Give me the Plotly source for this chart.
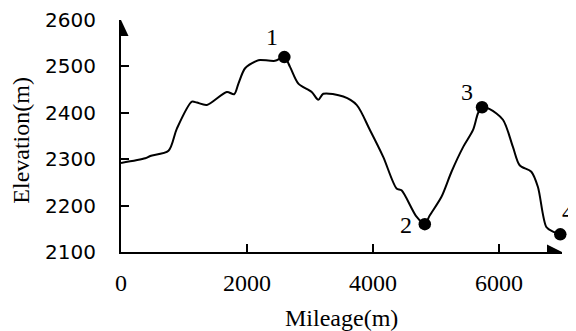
import plotly.graph_objects as go

# Elevation profile
mileage = [0, 385, 464, 754, 887, 1125, 1204, 1363, 1680, 1796, 1864, 1970, 2155, 2208,
           2445, 2593, 2683, 2815, 3027, 3132, 3211, 3528, 3740, 3951, 4162, 4374, 4453,
           4691, 4822, 4902, 5087, 5246, 5430, 5588, 5667, 5731, 5853, 6063, 6222, 6328,
           6513, 6618, 6751, 6856, 6973]
elevation = [2292, 2302, 2307, 2318, 2366, 2424, 2422, 2417, 2445, 2440, 2463, 2496, 2512, 2514,
             2512, 2520, 2499, 2463, 2445, 2428, 2441, 2435, 2417, 2363, 2305, 2237, 2233,
             2176, 2160, 2179, 2219, 2273, 2326, 2363, 2399, 2412, 2408, 2385, 2326, 2287,
             2273, 2240, 2154, 2144, 2138]

# Marked points
point_x = [2593, 4822, 5731, 6973]
point_y = [2520, 2160, 2412, 2138]
point_labels = ["1", "2", "3", "4"]
label_dx = [-12.6, -18.5, -15.3, 7.3]
label_dy = [20.3, -1, 15.6, 22.3]

x_ticks = [0, 2000, 4000, 6000]
y_ticks = [2100, 2200, 2300, 2400, 2500, 2600]

SERIF = "Liberation Serif"
SANS = "DejaVu Sans"

# page body has an 8px default margin -> compensate
OFF = 8

fig = go.Figure()
fig.add_trace(go.Scatter(x=mileage, y=elevation, mode="lines",
                         line=dict(color="black", width=2, shape="spline", smoothing=0.8),
                         hoverinfo="skip", cliponaxis=False))
fig.add_trace(go.Scatter(x=point_x, y=point_y, mode="markers",
                         marker=dict(color="black", size=12.5, line=dict(width=0)),
                         cliponaxis=False))

for px_, py_, t, dx, dy in zip(point_x, point_y, point_labels, label_dx, label_dy):
    fig.add_annotation(x=px_, y=py_, text=t, showarrow=False, xshift=dx, yshift=dy,
                       font=dict(family=SERIF, size=24, color="black"))

# Axis titles
fig.add_annotation(xref="paper", yref="paper", x=0.5, y=0, yshift=-66, text="Mileage(m)",
                   showarrow=False, yanchor="middle",
                   font=dict(family=SERIF, size=24, color="black"))
fig.add_annotation(xref="paper", yref="paper", x=0, xshift=-99.5, y=0.482, text="Elevation(m)",
                   showarrow=False, textangle=-90, xanchor="center", yanchor="middle",
                   font=dict(family=SERIF, size=24, color="black"))

# Arrowheads on axes
fig.add_shape(type="path", xref="x", yref="y", xsizemode="pixel", ysizemode="pixel",
              xanchor=0, yanchor=2600, path="M -7.5 -16 L 0 0 L 7.5 -16 Z",
              fillcolor="black", line=dict(width=0))
fig.add_shape(type="path", xref="x", yref="y", xsizemode="pixel", ysizemode="pixel",
              xanchor=7000, yanchor=2100, path="M -15 7.5 L 0 0 L -15 -7.5 Z",
              fillcolor="black", line=dict(width=0))

fig.update_layout(
    width=576 - OFF, height=331 - OFF,
    margin=dict(l=120.7 - OFF, r=13.6, t=20 - OFF, b=79.3, autoexpand=False),
    paper_bgcolor="white", plot_bgcolor="white",
    showlegend=False,
)
fig.update_xaxes(range=[0, 7000], tickvals=x_ticks, ticktext=[str(v) for v in x_ticks],
                 showgrid=False, zeroline=False, showline=True, linecolor="black", linewidth=2,
                 ticks="inside", ticklen=8, tickwidth=2, tickcolor="black",
                 ticklabelstandoff=8,
                 tickfont=dict(family=SERIF, size=24, color="black"))
fig.update_yaxes(range=[2100, 2600], tickvals=y_ticks, ticktext=[str(v) for v in y_ticks],
                 showgrid=False, zeroline=False, showline=True, linecolor="black", linewidth=2,
                 ticks="inside", ticklen=8, tickwidth=2, tickcolor="black",
                 ticklabelstandoff=19,
                 tickfont=dict(family=SANS, size=20, color="black"))

fig.write_html("out.html")
